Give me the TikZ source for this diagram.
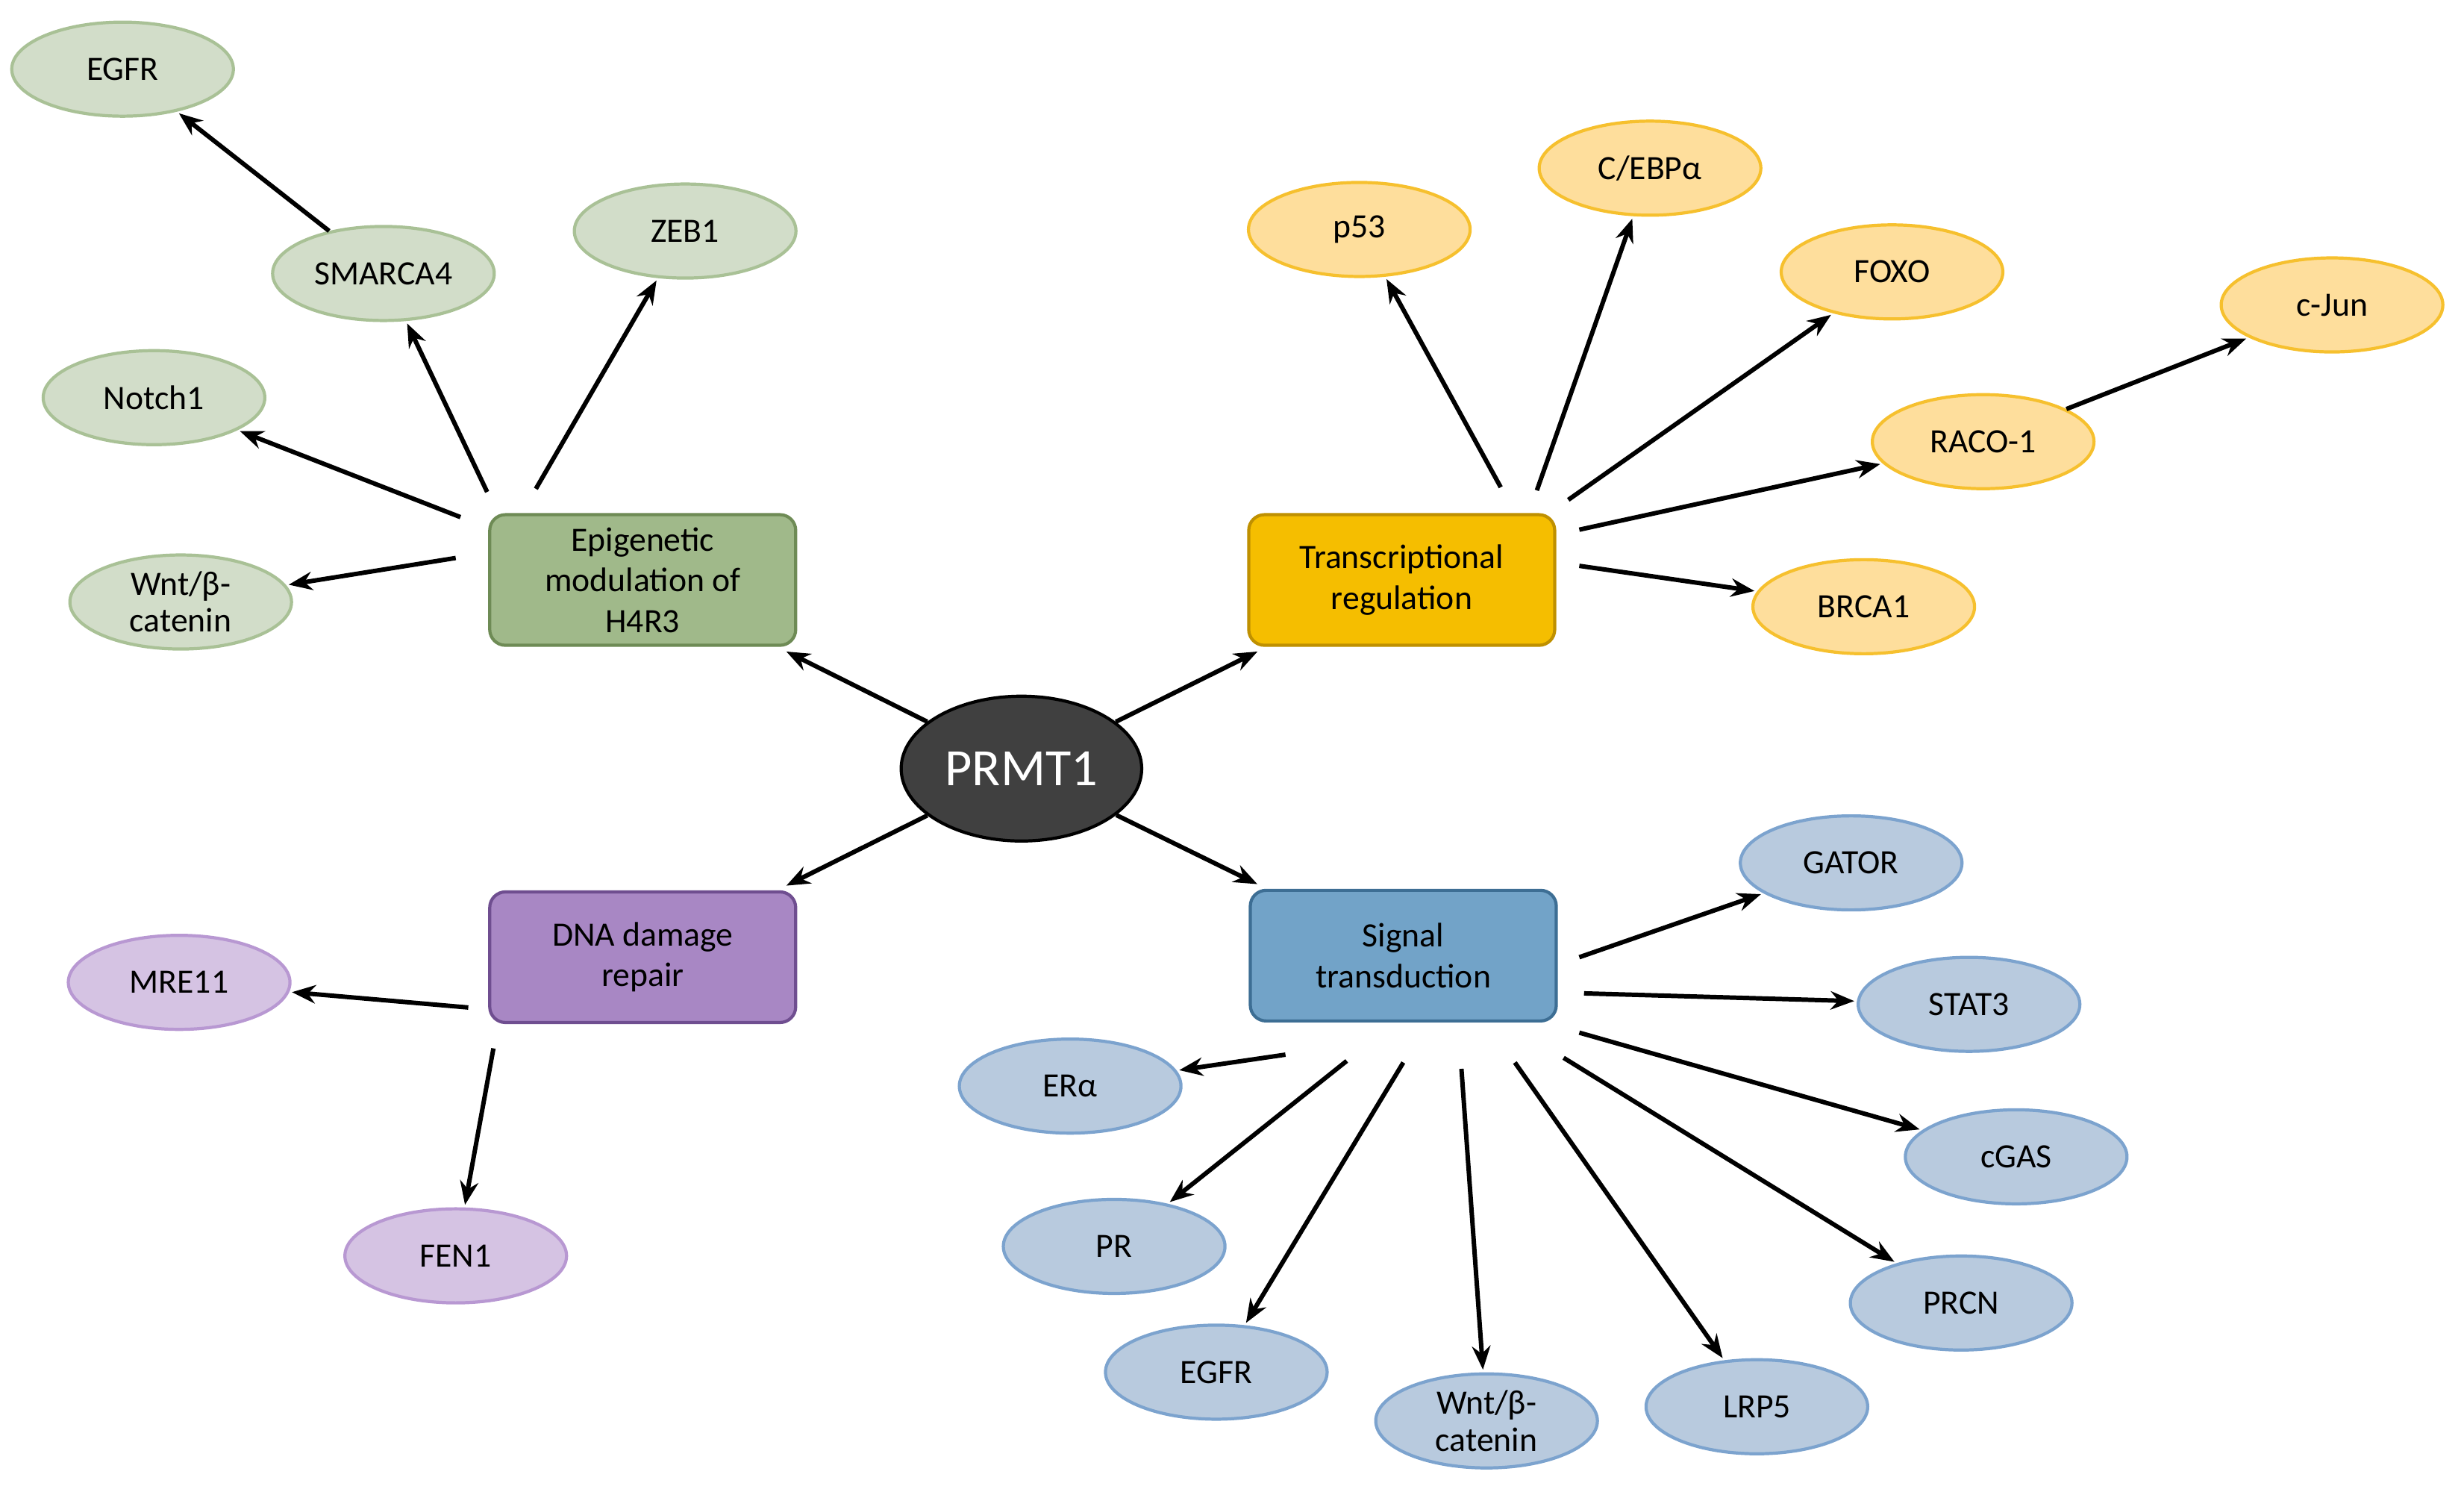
\documentclass[tikz,border=0pt]{standalone}
\usepackage{fontspec}
\setmainfont{Carlito}
\usetikzlibrary{shapes.geometric,arrows.meta}
\definecolor{gF}{HTML}{D2DDC9}\definecolor{gD}{HTML}{A9C196}
\definecolor{oF}{HTML}{FEDE9C}\definecolor{oD}{HTML}{F6C02E}
\definecolor{bF}{HTML}{B8CADE}\definecolor{bD}{HTML}{7CA3CE}
\definecolor{pF}{HTML}{D5C3E3}\definecolor{pD}{HTML}{B898D2}
\definecolor{gB}{HTML}{A0B98A}\definecolor{gBd}{HTML}{6E8B55}
\definecolor{oB}{HTML}{F5BE00}\definecolor{oBd}{HTML}{BF9000}
\definecolor{pB}{HTML}{A887C4}\definecolor{pBd}{HTML}{6F4E90}
\definecolor{bB}{HTML}{72A3C8}\definecolor{bBd}{HTML}{3D6E94}
\tikzset{
 leaf/.style={ellipse,minimum width=2.97cm,minimum height=1.26cm,line width=1.2pt,font=\fontsize{13}{14}\selectfont,align=center,inner sep=0pt},
 gl/.style={leaf,fill=gF,draw=gD}, ol/.style={leaf,fill=oF,draw=oD},
 bl/.style={leaf,fill=bF,draw=bD}, pl/.style={leaf,fill=pF,draw=pD},
 box/.style={rectangle,rounded corners=6pt,minimum width=4.1cm,minimum height=1.75cm,line width=1.2pt,font=\fontsize{13}{15.5}\selectfont,align=center},
 arr/.style={-{Stealth[length=9pt,width=7pt]},line width=1.7pt,shorten >=1pt},
 far/.style={arr,shorten <=0.4cm},
}
\begin{document}
\begin{tikzpicture}[x=0.02106cm,y=-0.02106cm]
\useasboundingbox (0,0) rectangle (1568,949);
\node[ellipse,fill=black!75,draw=black,line width=1.2pt,minimum width=3.16cm,minimum height=1.94cm,text=white,font=\fontsize{20}{22}\selectfont] (prmt) at (650,489) {PRMT1};
\node[box,fill=gB,draw=gBd] (epi) at (409,369) {Epigenetic\\modulation of\\H4R3};
\node[box,fill=oB,draw=oBd] (tr) at (892,369) {Transcriptional\\regulation};
\node[box,fill=pB,draw=pBd] (dna) at (409,609) {DNA damage\\repair};
\node[box,fill=bB,draw=bBd] (sig) at (893,608) {Signal\\transduction};

\node[gl] (egfr1) at (78,44) {EGFR};
\node[gl] (smar) at (244,174) {SMARCA4};
\node[gl] (zeb) at (436,147) {ZEB1};
\node[gl] (notch) at (98,253) {Notch1};
\node[gl] (wnt1) at (115,383) {Wnt/β-\\catenin};

\node[ol] (p53) at (865,146) {p53};
\node[ol] (cebp) at (1050,107) {C/EBPα};
\node[ol] (foxo) at (1204,173) {FOXO};
\node[ol] (cjun) at (1484,194) {c-Jun};
\node[ol] (raco) at (1262,281) {RACO-1};
\node[ol] (brca) at (1186,386) {BRCA1};

\node[bl] (gator) at (1178,549) {GATOR};
\node[bl] (stat) at (1253,639) {STAT3};
\node[bl] (cgas) at (1283,736) {cGAS};
\node[bl] (prcn) at (1248,829) {PRCN};
\node[bl] (lrp) at (1118,895) {LRP5};
\node[bl] (wnt2) at (946,904) {Wnt/β-\\catenin};
\node[bl] (egfr2) at (774,873) {EGFR};
\node[bl] (pr) at (709,793) {PR};
\node[bl] (era) at (681,691) {ERα};

\node[pl] (mre) at (114,625) {MRE11};
\node[pl] (fen) at (290,799) {FEN1};

\foreach \t in {epi,tr,dna,sig} \draw[arr,shorten >=4pt] (prmt) -- (\t);

\coordinate (e1) at (293,329); \coordinate (e2) at (290,355);
\coordinate (e3) at (310,313); \coordinate (e4) at (341,311);
\draw[arr] (e1) -- (notch); \draw[arr] (e2) -- (wnt1);
\draw[arr] (e3) -- (smar); \draw[arr] (e4) -- (zeb);
\draw[arr] (smar) -- (egfr1);

\coordinate (t1) at (955,310); \coordinate (t2) at (978,312);
\coordinate (t3) at (998,318); \coordinate (t4) at (1005,337);
\coordinate (t5) at (1005,360);
\draw[arr] (t1) -- (p53); \draw[arr] (t2) -- (cebp);
\draw[arr] (t3) -- (foxo); \draw[arr] (t4) -- (raco);
\draw[arr] (t5) -- (brca); \draw[arr] (raco) -- (cjun);

\coordinate (s1) at (1005,609); \coordinate (s2) at (1008,632);
\coordinate (s3) at (1005,657); \coordinate (s4) at (995,673);
\coordinate (s5) at (964,676); \coordinate (s6) at (930,680);
\coordinate (s7) at (893,676); \coordinate (s8) at (857,675);
\coordinate (s9) at (818,671);
\draw[arr] (s1) -- (gator); \draw[arr] (s2) -- (stat);
\draw[arr] (s3) -- (cgas); \draw[arr] (s4) -- (prcn);
\draw[arr] (s5) -- (lrp); \draw[arr] (s6) -- (wnt2);
\draw[arr] (s7) -- (egfr2); \draw[arr] (s8) -- (pr);
\draw[arr] (s9) -- (era);

\coordinate (d1) at (298,641); \coordinate (d2) at (314,667);
\draw[arr] (d1) -- (mre); \draw[arr] (d2) -- (fen);
\end{tikzpicture}
\end{document}
